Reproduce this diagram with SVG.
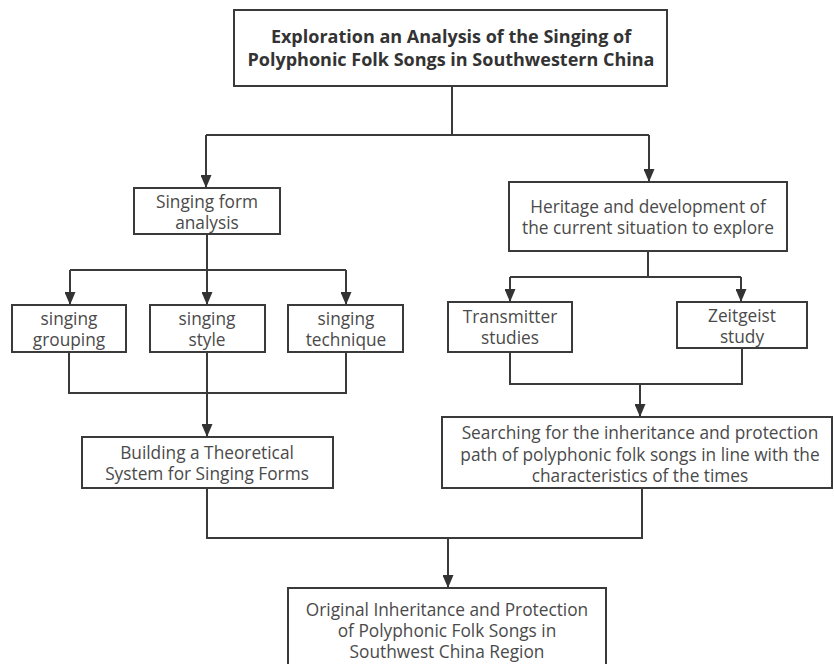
<svg xmlns="http://www.w3.org/2000/svg" width="834" height="664" viewBox="0 0 834 664">
<style>
.box{fill:#fff;stroke:#3a3a3a;stroke-width:2}
.t{font-family:"Open Sans","Noto Sans",sans-serif;font-size:17.3px;fill:#4a4a4a;text-anchor:middle}
.title{font-family:"Open Sans","Noto Sans",sans-serif;font-size:18px;font-weight:bold;fill:#333;text-anchor:middle}
.c{fill:none;stroke:#3a3a3a;stroke-width:2}
</style>
<defs>
<marker id="ah" viewBox="0 0 13 11" refX="13" refY="5.5" markerWidth="13" markerHeight="11" markerUnits="userSpaceOnUse" orient="auto">
<path d="M0,0 L13,5.5 L0,11 Z" fill="#333"/>
</marker>
</defs>
<rect width="834" height="664" fill="#fff"/>
<g id="connectors">
<path class="c" d="M452,86 V135 M206,135 H649"/>
<path class="c" d="M206,135 V188" marker-end="url(#ah)"/>
<path class="c" d="M649,135 V182" marker-end="url(#ah)"/>
<path class="c" d="M207,234 V270 M70,270 H346"/>
<path class="c" d="M70,270 V305" marker-end="url(#ah)"/>
<path class="c" d="M207,270 V305" marker-end="url(#ah)"/>
<path class="c" d="M346,270 V305" marker-end="url(#ah)"/>
<path class="c" d="M648,251 V277 M510,277 H741"/>
<path class="c" d="M510,277 V302" marker-end="url(#ah)"/>
<path class="c" d="M741,277 V302" marker-end="url(#ah)"/>
<path class="c" d="M69,352 V393 H346 V352 M207,352 V393"/>
<path class="c" d="M207,393 V437" marker-end="url(#ah)"/>
<path class="c" d="M510,352 V384 H742 V348"/>
<path class="c" d="M640,384 V417" marker-end="url(#ah)"/>
<path class="c" d="M207,488 V538 H642 V488"/>
<path class="c" d="M448,538 V588" marker-end="url(#ah)"/>
</g>
<g id="n-title">
<rect class="box" x="234" y="10" width="433" height="76"/>
<text class="title" x="451" y="43">Exploration an Analysis of the Singing of</text>
<text class="title" x="451" y="66">Polyphonic Folk Songs in Southwestern China</text>
</g>
<g id="n-form">
<rect class="box" x="134" y="188" width="146" height="46"/>
<text class="t" x="207" y="208">Singing form</text>
<text class="t" x="207" y="229">analysis</text>
</g>
<g id="n-heritage">
<rect class="box" x="509" y="182" width="278" height="69"/>
<text class="t" x="648" y="213">Heritage and development of</text>
<text class="t" x="648" y="234">the current situation to explore</text>
</g>
<g id="n-grouping">
<rect class="box" x="12" y="305" width="114" height="47"/>
<text class="t" x="69" y="325">singing</text>
<text class="t" x="69" y="346">grouping</text>
</g>
<g id="n-style">
<rect class="box" x="150" y="305" width="115" height="47"/>
<text class="t" x="207" y="325">singing</text>
<text class="t" x="207" y="346">style</text>
</g>
<g id="n-technique">
<rect class="box" x="288" y="305" width="115" height="47"/>
<text class="t" x="346" y="325">singing</text>
<text class="t" x="346" y="346">technique</text>
</g>
<g id="n-transmitter">
<rect class="box" x="448" y="302" width="124" height="50"/>
<text class="t" x="510" y="323">Transmitter</text>
<text class="t" x="510" y="344">studies</text>
</g>
<g id="n-zeitgeist">
<rect class="box" x="677" y="302" width="130" height="46"/>
<text class="t" x="742" y="322">Zeitgeist</text>
<text class="t" x="742" y="343">study</text>
</g>
<g id="n-building">
<rect class="box" x="82" y="437" width="251" height="51"/>
<text class="t" x="207" y="459">Building a Theoretical</text>
<text class="t" x="207" y="480">System for Singing Forms</text>
</g>
<g id="n-search">
<rect class="box" x="442" y="417" width="390" height="71"/>
<text class="t" x="640" y="439">Searching for the inheritance and protection</text>
<text class="t" x="640" y="461">path of polyphonic folk songs in line with the</text>
<text class="t" x="640" y="482">characteristics of the times</text>
</g>
<g id="n-original">
<rect class="box" x="288" y="588" width="318" height="90"/>
<text class="t" x="447" y="616">Original Inheritance and Protection</text>
<text class="t" x="447" y="637">of Polyphonic Folk Songs in</text>
<text class="t" x="447" y="658">Southwest China Region</text>
</g>
</svg>
